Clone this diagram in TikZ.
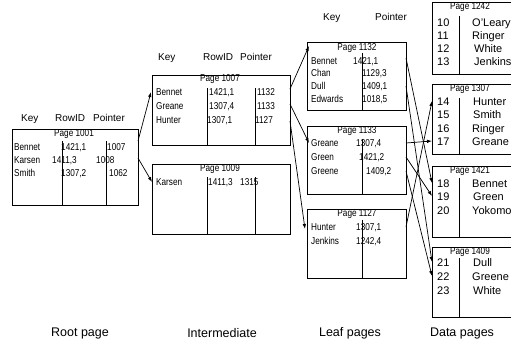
\documentclass[tikz,border=0pt]{standalone}
\usepackage{fontspec}
\setmainfont{Liberation Sans}
\newfontfamily\cf[FakeStretch=0.82]{Liberation Sans}
\usetikzlibrary{arrows.meta,calc}
\begin{document}
\begin{tikzpicture}[x=1pt,y=-1pt,
  box/.style={draw,line width=0.8pt,inner sep=0pt,outer sep=0pt,anchor=north west},
  div/.style={line width=0.8pt},
  hd/.style={font=\fontsize{10}{10}\selectfont,inner sep=0pt,anchor=west,text height=7pt,text depth=0pt},
  tx/.style={font=\cf\fontsize{10}{10}\selectfont,inner sep=0pt,anchor=west,text height=7pt,text depth=0pt},
  pg/.style={font=\cf\fontsize{10}{10}\selectfont,inner sep=0pt,anchor=center,text height=7pt,text depth=0pt},
  dt/.style={font=\fontsize{11}{11}\selectfont,inner sep=0pt,anchor=west,text height=8pt,text depth=0pt},
  capt/.style={font=\fontsize{12.5}{12.5}\selectfont,inner sep=0pt,anchor=center},
  arr/.style={line width=0.7pt,-{Latex[length=5pt,width=3.5pt]}}]
\useasboundingbox (0,0) rectangle (511,351);
\clip (0,0) rectangle (511,351);
% ---------- Root page ----------
\node[hd] (rh1) at (21,118) {Key};
\node[hd] (rh2) at (55,118) {RowID};
\node[hd] (rh3) at (93,118) {Pointer};
\node[box,minimum width=126pt,minimum height=76pt] (root) at (12,129) {};
\draw[div] (62,141) -- (62,205);
\draw[div] (106,141) -- (106,205);
\node[pg] (rp) at (74,133) {Page 1001};
\node[tx] (rk1) at (14,147) {Bennet};
\node[tx] (rr1) at (61,147) {1421,1};
\node[tx] (rq1) at (107,147) {1007};
\node[tx] (rk2) at (14,160) {Karsen};
\node[tx] (rr2) at (52,160) {1411,3};
\node[tx] (rq2) at (96,160) {1008};
\node[tx] (rk3) at (14,173) {Smith};
\node[tx] (rr3) at (61,173) {1307,2};
\node[tx] (rq3) at (109,173) {1062};
% ---------- Intermediate ----------
\node[hd] (ih1) at (158,57) {Key};
\node[hd] (ih2) at (203,57) {RowID};
\node[hd] (ih3) at (240,57) {Pointer};
\node[box,minimum width=138pt,minimum height=70pt] (i1) at (152,75) {};
\draw[div] (207,88) -- (207,145);
\draw[div] (255,88) -- (255,145);
\node[pg] (ip1) at (220,78) {Page 1007};
\node[tx] (i1k1) at (156,92) {Bennet};
\node[tx] (i1r1) at (209,92) {1421,1};
\node[tx] (i1q1) at (257,92) {1132};
\node[tx] (i1k2) at (156,106) {Greane};
\node[tx] (i1r2) at (209,106) {1307,4};
\node[tx] (i1q2) at (257,106) {1133};
\node[tx] (i1k3) at (156,120) {Hunter};
\node[tx] (i1r3) at (207,120) {1307,1};
\node[tx] (i1q3) at (255,120) {1127};
\node[box,minimum width=138pt,minimum height=70pt] (i2) at (152,164) {};
\draw[div] (207,177) -- (207,234);
\draw[div] (255,177) -- (255,234);
\node[pg] (ip2) at (220,168) {Page 1009};
\node[tx] (i2k1) at (156,182) {Karsen};
\node[tx] (i2r1) at (208,182) {1411,3};
\node[tx] (i2q1) at (240,182) {1315};
% ---------- Leaf pages ----------
\node[hd] (lh1) at (323,17) {Key};
\node[hd] (lh2) at (375,17) {Pointer};
\node[box,minimum width=99pt,minimum height=68pt] (l1) at (307,42) {};
\draw[div] (362,53) -- (362,110);
\node[pg] (lp1) at (357,47) {Page 1132};
\node[tx] (l1k1) at (311,61) {Bennet};
\node[tx] (l1r1) at (353,61) {1421,1};
\node[tx] (l1k2) at (311,73) {Chan};
\node[tx] (l1r2) at (362,73) {1129,3};
\node[tx] (l1k3) at (311,86) {Dull};
\node[tx] (l1r3) at (362,86) {1409,1};
\node[tx] (l1k4) at (311,99) {Edwards};
\node[tx] (l1r4) at (362,99) {1018,5};
\node[box,minimum width=99pt,minimum height=68pt] (l2) at (307,126) {};
\draw[div] (362,139) -- (362,194);
\node[pg] (lp2) at (357,130) {Page 1133};
\node[tx] (l2k1) at (311,143) {Greane};
\node[tx] (l2r1) at (356,143) {1307,4};
\node[tx] (l2k2) at (311,157) {Green};
\node[tx] (l2r2) at (359,157) {1421,2};
\node[tx] (l2k3) at (311,171) {Greene};
\node[tx] (l2r3) at (366,171) {1409,2};
\node[box,minimum width=99pt,minimum height=69pt] (l3) at (307,209) {};
\draw[div] (362,220) -- (362,278);
\node[pg] (lp3) at (357,213) {Page 1127};
\node[tx] (l3k1) at (311,227) {Hunter};
\node[tx] (l3r1) at (356,227) {1307,1};
\node[tx] (l3k2) at (311,241) {Jenkins};
\node[tx] (l3r2) at (356,241) {1242,4};
% ---------- Data pages ----------
\node[box,minimum width=90pt,minimum height=72pt] (d1) at (432,2) {};
\draw[div] (459,16) -- (459,74);
\node[pg] (dp1) at (470,6) {Page 1242};
\node[dt] (d1n1) at (437,22) {10}; \node[dt] (d1m1) at (472,22) {O'Leary};
\node[dt] (d1n2) at (437,35) {11}; \node[dt] (d1m2) at (472,35) {Ringer};
\node[dt] (d1n3) at (437,48) {12}; \node[dt] (d1m3) at (474,48) {White};
\node[dt] (d1n4) at (437,61) {13}; \node[dt] (d1m4) at (474,61) {Jenkins};
\node[box,minimum width=90pt,minimum height=70pt] (d2) at (432,84) {};
\draw[div] (459,98) -- (459,154);
\node[pg] (dp2) at (470,88) {Page 1307};
\node[dt] (d2n1) at (437,101) {14}; \node[dt] (d2m1) at (473,101) {Hunter};
\node[dt] (d2n2) at (437,114) {15}; \node[dt] (d2m2) at (473,114) {Smith};
\node[dt] (d2n3) at (437,128) {16}; \node[dt] (d2m3) at (472,128) {Ringer};
\node[dt] (d2n4) at (437,141) {17}; \node[dt] (d2m4) at (472,141) {Greane};
\node[box,minimum width=90pt,minimum height=71pt] (d3) at (432,166) {};
\draw[div] (459,178) -- (459,237);
\node[pg] (dp3) at (470,170) {Page 1421};
\node[dt] (d3n1) at (437,183) {18}; \node[dt] (d3m1) at (472,183) {Bennet};
\node[dt] (d3n2) at (437,196) {19}; \node[dt] (d3m2) at (473,196) {Green};
\node[dt] (d3n3) at (437,210) {20}; \node[dt] (d3m3) at (472,210) {Yokomoto};
\node[box,minimum width=90pt,minimum height=70pt] (d4) at (432,247) {};
\draw[div] (459,258) -- (459,317);
\node[pg] (dp4) at (470,251) {Page 1409};
\node[dt] (d4n1) at (437,262) {21}; \node[dt] (d4m1) at (473,262) {Dull};
\node[dt] (d4n2) at (437,276) {22}; \node[dt] (d4m2) at (472,276) {Greene};
\node[dt] (d4n3) at (437,290) {23}; \node[dt] (d4m3) at (473,290) {White};
% ---------- Captions ----------
\node[capt] (c1) at (80,333) {Root page};
\node[capt] (c2) at (222,333) {Intermediate};
\node[capt] (c3) at (350,333) {Leaf pages};
\node[capt] (c4) at (462,333) {Data pages};
% ---------- Connectors ----------
\draw[arr] ([yshift=-12pt]root.north east) -- ([xshift=-5pt]i1k1.west);
\draw[arr] ([yshift=-29pt]root.north east) -- ([xshift=-4pt]i2k1.west);
\draw[arr] ([yshift=-14pt]i1.north east) -- ([shift={(2pt,-4pt)}]l1.north west);
\draw[arr] ([yshift=-29pt]i1.north east) -- ([xshift=-2pt]l2k1.west);
\draw[arr] ([yshift=-46pt]i1.north east) -- ([shift={(-6pt,-2pt)}]l3k1.west);
\draw[arr] ([yshift=3pt]l1.east |- l1k1) -- ([xshift=-5pt]d3n1.west);
\draw[arr] (l1.east |- l1k3) -- ([xshift=-5pt]d4n1.west);
\draw[arr] (l2.east |- l2k1) -- ([xshift=-5pt]d2n4.west);
\draw[arr] (l2.east |- l2k2) -- ([xshift=-5pt]d3n2.west);
\draw[arr] (l2.east |- l2k3) -- ([xshift=-5pt]d4n2.west);
\draw[arr] (l3.east |- l3k1) -- ([xshift=-5pt]d2n1.west);
\end{tikzpicture}
\end{document}
